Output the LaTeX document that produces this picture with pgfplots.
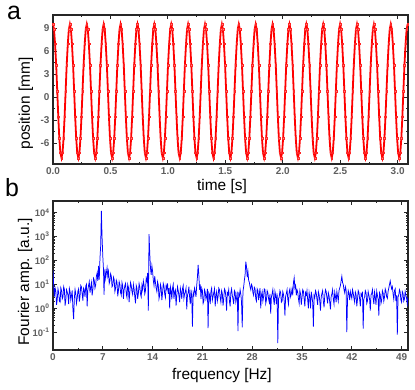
\documentclass[border=0pt]{standalone}
\usepackage{fontspec}
\setmainfont{Liberation Sans}
\usepackage{pgfplots}
\pgfplotsset{compat=1.18}
\definecolor{ticklab}{RGB}{95,95,95}

\pgfplotsset{
  panel/.style={
    scale only axis, width=355bp, height=149bp,
    axis line style={line width=1.1pt, black!85},
    tick style={line width=0.8pt, black!85},
    major tick length=4bp, minor tick length=2.2bp,
    tick label style={font=\fontsize{10}{12}\selectfont\bfseries, text=ticklab},
    label style={font=\fontsize{15.5}{18}\selectfont},
  }
}

\begin{document}
\begin{tikzpicture}
% (a) position vs time
\begin{axis}[panel, name=top,
    xmin=0, xmax=3.09, ymin=-8.7, ymax=10.7,
    xtick={0,0.5,1,1.5,2,2.5,3},
    xticklabels={0.0,0.5,1.0,1.5,2.0,2.5,3.0},
    ytick={-6,-3,0,3,6,9},
    yticklabels={-6,-3,0,3,6,9},
    minor x tick num=1, minor y tick num=1,
    xlabel={time [s]}, ylabel={position [mm]},
    xlabel style={at={(axis description cs:0.476,-0.181)}, anchor=base},
    ylabel style={at={(axis description cs:-0.0648,0.406)}, anchor=base, rotate=0},
  ]
  \addplot[red, line width=1.8pt, mark=square*, mark size=0.85pt,
           mark options={draw=red!85, fill=red!50, line width=0.3pt}] coordinates {
  (0.000,9.50)(0.009,8.84)(0.018,6.95)(0.028,4.13)(0.037,0.80)(0.046,-2.53)(0.055,-5.35)(0.064,-7.24)(0.074,-7.90)(0.083,-7.24)(0.092,-5.35)(0.101,-2.53)(0.110,0.80)(0.119,4.13)(0.129,6.95)(0.138,8.84)
  (0.147,9.50)(0.156,8.84)(0.165,6.95)(0.175,4.13)(0.184,0.80)(0.193,-2.53)(0.202,-5.35)(0.211,-7.24)(0.221,-7.90)(0.230,-7.24)(0.239,-5.35)(0.248,-2.53)(0.257,0.80)(0.266,4.13)(0.276,6.95)(0.285,8.84)
  (0.294,9.50)(0.303,8.84)(0.312,6.95)(0.322,4.13)(0.331,0.80)(0.340,-2.53)(0.349,-5.35)(0.358,-7.24)(0.368,-7.90)(0.377,-7.24)(0.386,-5.35)(0.395,-2.53)(0.404,0.80)(0.413,4.13)(0.423,6.95)(0.432,8.84)
  (0.441,9.50)(0.450,8.84)(0.459,6.95)(0.469,4.13)(0.478,0.80)(0.487,-2.53)(0.496,-5.35)(0.505,-7.24)(0.515,-7.90)(0.524,-7.24)(0.533,-5.35)(0.542,-2.53)(0.551,0.80)(0.560,4.13)(0.570,6.95)(0.579,8.84)
  (0.588,9.50)(0.597,8.84)(0.606,6.95)(0.616,4.13)(0.625,0.80)(0.634,-2.53)(0.643,-5.35)(0.652,-7.24)(0.662,-7.90)(0.671,-7.24)(0.680,-5.35)(0.689,-2.53)(0.698,0.80)(0.707,4.13)(0.717,6.95)(0.726,8.84)
  (0.735,9.50)(0.744,8.84)(0.753,6.95)(0.763,4.13)(0.772,0.80)(0.781,-2.53)(0.790,-5.35)(0.799,-7.24)(0.809,-7.90)(0.818,-7.24)(0.827,-5.35)(0.836,-2.53)(0.845,0.80)(0.854,4.13)(0.864,6.95)(0.873,8.84)
  (0.882,9.50)(0.891,8.84)(0.900,6.95)(0.910,4.13)(0.919,0.80)(0.928,-2.53)(0.937,-5.35)(0.946,-7.24)(0.956,-7.90)(0.965,-7.24)(0.974,-5.35)(0.983,-2.53)(0.992,0.80)(1.001,4.13)(1.011,6.95)(1.020,8.84)
  (1.029,9.50)(1.038,8.84)(1.047,6.95)(1.057,4.13)(1.066,0.80)(1.075,-2.53)(1.084,-5.35)(1.093,-7.24)(1.103,-7.90)(1.112,-7.24)(1.121,-5.35)(1.130,-2.53)(1.139,0.80)(1.148,4.13)(1.158,6.95)(1.167,8.84)
  (1.176,9.50)(1.185,8.84)(1.194,6.95)(1.204,4.13)(1.213,0.80)(1.222,-2.53)(1.231,-5.35)(1.240,-7.24)(1.250,-7.90)(1.259,-7.24)(1.268,-5.35)(1.277,-2.53)(1.286,0.80)(1.295,4.13)(1.305,6.95)(1.314,8.84)
  (1.323,9.50)(1.332,8.84)(1.341,6.95)(1.351,4.13)(1.360,0.80)(1.369,-2.53)(1.378,-5.35)(1.387,-7.24)(1.397,-7.90)(1.406,-7.24)(1.415,-5.35)(1.424,-2.53)(1.433,0.80)(1.442,4.13)(1.452,6.95)(1.461,8.84)
  (1.470,9.50)(1.479,8.84)(1.488,6.95)(1.498,4.13)(1.507,0.80)(1.516,-2.53)(1.525,-5.35)(1.534,-7.24)(1.544,-7.90)(1.553,-7.24)(1.562,-5.35)(1.571,-2.53)(1.580,0.80)(1.589,4.13)(1.599,6.95)(1.608,8.84)
  (1.617,9.50)(1.626,8.84)(1.635,6.95)(1.645,4.13)(1.654,0.80)(1.663,-2.53)(1.672,-5.35)(1.681,-7.24)(1.691,-7.90)(1.700,-7.24)(1.709,-5.35)(1.718,-2.53)(1.727,0.80)(1.736,4.13)(1.746,6.95)(1.755,8.84)
  (1.764,9.50)(1.773,8.84)(1.782,6.95)(1.792,4.13)(1.801,0.80)(1.810,-2.53)(1.819,-5.35)(1.828,-7.24)(1.838,-7.90)(1.847,-7.24)(1.856,-5.35)(1.865,-2.53)(1.874,0.80)(1.883,4.13)(1.893,6.95)(1.902,8.84)
  (1.911,9.50)(1.920,8.84)(1.929,6.95)(1.939,4.13)(1.948,0.80)(1.957,-2.53)(1.966,-5.35)(1.975,-7.24)(1.985,-7.90)(1.994,-7.24)(2.003,-5.35)(2.012,-2.53)(2.021,0.80)(2.030,4.13)(2.040,6.95)(2.049,8.84)
  (2.058,9.50)(2.067,8.84)(2.076,6.95)(2.086,4.13)(2.095,0.80)(2.104,-2.53)(2.113,-5.35)(2.122,-7.24)(2.132,-7.90)(2.141,-7.24)(2.150,-5.35)(2.159,-2.53)(2.168,0.80)(2.177,4.13)(2.187,6.95)(2.196,8.84)
  (2.205,9.50)(2.214,8.84)(2.223,6.95)(2.233,4.13)(2.242,0.80)(2.251,-2.53)(2.260,-5.35)(2.269,-7.24)(2.279,-7.90)(2.288,-7.24)(2.297,-5.35)(2.306,-2.53)(2.315,0.80)(2.324,4.13)(2.334,6.95)(2.343,8.84)
  (2.352,9.50)(2.361,8.84)(2.370,6.95)(2.380,4.13)(2.389,0.80)(2.398,-2.53)(2.407,-5.35)(2.416,-7.24)(2.426,-7.90)(2.435,-7.24)(2.444,-5.35)(2.453,-2.53)(2.462,0.80)(2.471,4.13)(2.481,6.95)(2.490,8.84)
  (2.499,9.50)(2.508,8.84)(2.517,6.95)(2.527,4.13)(2.536,0.80)(2.545,-2.53)(2.554,-5.35)(2.563,-7.24)(2.573,-7.90)(2.582,-7.24)(2.591,-5.35)(2.600,-2.53)(2.609,0.80)(2.618,4.13)(2.628,6.95)(2.637,8.84)
  (2.646,9.50)(2.655,8.84)(2.664,6.95)(2.674,4.13)(2.683,0.80)(2.692,-2.53)(2.701,-5.35)(2.710,-7.24)(2.720,-7.90)(2.729,-7.24)(2.738,-5.35)(2.747,-2.53)(2.756,0.80)(2.765,4.13)(2.775,6.95)(2.784,8.84)
  (2.793,9.50)(2.802,8.84)(2.811,6.95)(2.821,4.13)(2.830,0.80)(2.839,-2.53)(2.848,-5.35)(2.857,-7.24)(2.867,-7.90)(2.876,-7.24)(2.885,-5.35)(2.894,-2.53)(2.903,0.80)(2.912,4.13)(2.922,6.95)(2.931,8.84)
  (2.940,9.50)(2.949,8.84)(2.958,6.95)(2.968,4.13)(2.977,0.80)(2.986,-2.53)(2.995,-5.35)(3.004,-7.24)(3.014,-7.90)(3.023,-7.24)(3.032,-5.35)(3.041,-2.53)(3.050,0.80)(3.059,4.13)(3.069,6.95)(3.078,8.84)
  (3.087,9.50)
  };
\end{axis}

% (b) Fourier spectrum
\begin{axis}[panel, at={(0,-186bp)}, anchor=south west,
    ymode=log, xmin=0, xmax=49.9, ymin=0.018, ymax=31000,
    xtick={0,7,14,21,28,35,42,49},
    xticklabels={0,7,14,21,28,35,42,49},
    minor x tick num=1,
    ytick={0.1,1,10,100,1000,10000},
    yticklabels={10\textsuperscript{-1},10\textsuperscript{0},10\textsuperscript{1},10\textsuperscript{2},10\textsuperscript{3},10\textsuperscript{4}},
    yticklabel style={font=\fontsize{9.5}{11}\selectfont\bfseries},
    xlabel={frequency [Hz]}, ylabel={Fourier amp. [a.u.]},
    xlabel style={at={(axis description cs:0.476,-0.195)}, anchor=base},
    ylabel style={at={(axis description cs:-0.0676,0.458)}, anchor=base, rotate=0},
  ]
  \addplot[blue, line width=0.75pt] coordinates {
  (0.0,40)(0.1,8)(0.2,3.1)(0.3,7)(0.4,5.2)(0.5,1.4)(0.6,2.4)(0.7,6.5)(0.8,4.6)(0.9,2.0)(1.0,1.8)(1.1,7.2)(1.2,5.5)(1.3,2.5)(1.4,3.0)(1.5,8.0)(1.6,6.2)(1.7,1.3)(1.8,2.2)(1.9,6.0)
  (2.0,4.8)(2.1,3.6)(2.2,1.5)(2.3,6.8)(2.4,5.0)(2.5,2.2)(2.6,3.4)(2.7,5.6)(2.8,0.9)(2.9,0.35)(3.0,2.6)(3.1,6.2)(3.2,4.1)(3.3,1.6)(3.4,2.6)(3.5,5.2)(3.6,6.5)(3.7,1.9)(3.8,3.2)(3.9,9.0)
  (4.0,7.8)(4.1,4.0)(4.2,2.1)(4.3,7.0)(4.4,5.9)(4.5,3.0)(4.6,8.5)(4.7,10)(4.8,1.2)(4.9,6.0)(5.0,9.0)(5.1,13)(5.2,4.5)(5.3,7.5)(5.4,12)(5.5,3.5)(5.6,6.0)(5.7,18)(5.8,15)(5.9,7)
  (6.0,9.5)(6.1,22)(6.2,30)(6.3,14)(6.4,60)(6.5,16)(6.6,120)(6.7,400)(6.8,12000)(6.9,900)(7.0,150)(7.1,40)(7.17,3.7)(7.25,20)(7.3,45)(7.4,18)(7.5,30)(7.6,50)(7.7,22)(7.8,35)(7.9,11)
  (8.0,14)(8.1,28)(8.2,22)(8.3,8)(8.4,9)(8.5,20)(8.6,16)(8.7,5)(8.8,7)(8.9,15)(9.0,12)(9.1,3.2)(9.2,5.5)(9.3,13)(9.4,10)(9.5,4.5)(9.6,3.5)(9.7,12)(9.8,8.5)(9.9,2.5)
  (10.0,6)(10.1,9)(10.2,11)(10.3,4)(10.4,2.8)(10.5,10)(10.6,7.5)(10.7,1.8)(10.8,5)(10.9,12)(11.0,9)(11.1,5)(11.2,3.8)(11.3,10)(11.4,6.5)(11.5,3)(11.6,1.6)(11.7,9)(11.8,7)(11.9,2.5)
  (12.0,4.2)(12.1,11)(12.2,8)(12.3,4)(12.4,3)(12.5,9)(12.6,6)(12.7,14)(12.8,9.5)(12.9,4)(13.0,5.5)(13.1,18)(13.2,14)(13.3,30)(13.4,0.8)(13.5,1260)(13.6,200)(13.7,50)(13.8,25)(13.9,60)
  (14.0,35)(14.1,15)(14.2,9)(14.3,22)(14.4,12)(14.5,7)(14.6,5)(14.7,13)(14.8,9.5)(14.9,2.5)(15.0,3.5)(15.1,10)(15.2,7.5)(15.3,2.2)(15.4,4.5)(15.5,11)(15.6,8.5)(15.7,4)(15.8,2.8)(15.9,9)
  (16.0,6.5)(16.1,11)(16.2,4)(16.3,7)(16.4,1)(16.5,8)(16.6,5.5)(16.7,2.4)(16.8,7)(16.9,10)(17.0,2.5)(17.1,5)(17.2,6)(17.3,1.3)(17.4,3.5)(17.5,8)(17.6,5.5)(17.7,3.4)(17.8,1.8)(17.9,7)
  (18.0,4.8)(18.1,2.5)(18.2,6.5)(18.3,9)(18.4,2.6)(18.5,4)(18.6,5)(18.7,7)(18.8,0.9)(18.9,3.5)(19.0,4.5)(19.1,8)(19.2,3)(19.3,1.5)(19.4,6)(19.5,3)(19.6,0.17)(19.7,4.5)(19.8,3.5)(19.9,7)
  (20.0,5)(20.1,3)(20.2,9)(20.3,20)(20.4,65)(20.5,25)(20.6,6)(20.7,10)(20.8,2.5)(20.9,7)(21.0,5.5)(21.1,1.6)(21.2,2)(21.3,6)(21.4,4.8)(21.5,2.4)(21.6,3.2)(21.7,6.5)(21.8,0.15)(21.9,4.5)
  (22.0,3.8)(22.1,1.5)(22.2,5.2)(22.3,7)(22.4,2.2)(22.5,3.2)(22.6,4.5)(22.7,6.5)(22.8,1.2)(22.9,3.5)(23.0,5)(23.1,2)(23.2,3)(23.3,7)(23.4,6)(23.5,2.8)(23.6,1.8)(23.7,5.5)(23.8,4.2)(23.9,1.3)
  (24.0,2.5)(24.1,6.5)(24.2,5.5)(24.3,3)(24.4,0.8)(24.5,4.5)(24.6,3.8)(24.7,6)(24.8,2)(24.9,1.2)(25.0,4.5)(25.1,6.5)(25.2,3.5)(25.3,2.4)(25.4,1.5)(25.5,5.5)(25.6,4.8)(25.7,1.8)(25.8,2.6)(25.9,5)
  (26.0,0.11)(26.1,4)(26.2,3.2)(26.3,6)(26.4,4)(26.5,1.8)(26.6,0.16)(26.7,5)(26.8,8)(26.9,15)(27.0,25)(27.1,90)(27.2,55)(27.3,20)(27.4,35)(27.5,15)(27.6,12)(27.7,8)(27.8,6)(27.9,10)
  (28.0,8.5)(28.1,4.5)(28.2,3.5)(28.3,7.5)(28.4,6.5)(28.5,2.5)(28.6,2)(28.7,6.5)(28.8,5.5)(28.9,2.2)(29.0,4)(29.1,7)(29.2,1)(29.3,3.5)(29.4,5)(29.5,2)(29.6,3)(29.7,6.5)(29.8,6)(29.9,1.6)
  (30.0,2.2)(30.1,5.5)(30.2,4.5)(30.3,2.5)(30.4,1.8)(30.5,4)(30.6,0.6)(30.7,3)(30.8,4)(30.9,6)(31.0,2.5)(31.1,1.4)(31.2,5)(31.3,3.4)(31.4,1.5)(31.5,4.2)(31.6,0.035)(31.7,2.5)(31.8,3)(31.9,5.5)
  (32.0,4.5)(32.1,1.8)(32.2,2)(32.3,5)(32.4,3.8)(32.5,2)(32.6,0.5)(32.7,3.2)(32.8,4.2)(32.9,6)(33.0,2.4)(33.1,1.5)(33.2,5)(33.3,6.5)(33.4,3)(33.5,4)(33.6,6.5)(33.7,3.5)(33.8,12)(33.9,19)
  (34.0,7)(34.1,9)(34.2,3.5)(34.3,6)(34.4,4.8)(34.5,2.5)(34.6,1.6)(34.7,5.5)(34.8,4)(34.9,1.4)(35.0,2.8)(35.1,6)(35.2,5.2)(35.3,2.5)(35.4,1.2)(35.5,4.5)(35.6,3.6)(35.7,5.5)(35.8,2.2)(35.9,1.0)
  (36.0,4.6)(36.1,3)(36.2,1)(36.3,5)(36.4,3.2)(36.5,1.8)(36.6,0.17)(36.7,3.5)(36.8,2.8)(36.9,5.5)(37.0,4.4)(37.1,2.4)(37.2,1.4)(37.3,5)(37.4,3.8)(37.5,2)(37.6,0.8)(37.7,3)(37.8,4.2)(37.9,5.5)
  (38.0,2)(38.1,1.1)(38.2,3.5)(38.3,6)(38.4,5)(38.5,2.8)(38.6,1.6)(38.7,4.5)(38.8,3.4)(38.9,1.8)(39.0,0.9)(39.1,3.2)(39.2,4)(39.3,6)(39.4,2.4)(39.5,1.5)(39.6,4.8)(39.7,3.2)(39.8,1.8)(39.9,5)
  (40.0,3.2)(40.1,2)(40.2,5.5)(40.3,7)(40.4,9)(40.5,14)(40.6,22)(40.7,12)(40.8,10)(40.9,6)(41.0,4.5)(41.1,8)(41.2,6)(41.3,0.1)(41.4,2.5)(41.5,5.5)(41.6,4.2)(41.7,2.2)(41.8,5)(41.9,3.5)
  (42.0,2.6)(42.1,6)(42.2,4.4)(42.3,2.6)(42.4,1.8)(42.5,4.8)(42.6,3.8)(42.7,1.2)(42.8,2.4)(42.9,5.5)(43.0,4.6)(43.1,2.5)(43.2,1.2)(43.3,4)(43.4,3.4)(43.5,5)(43.6,0.14)(43.7,2.6)(43.8,3)(43.9,5.5)
  (44.0,4.6)(44.1,1.6)(44.2,2)(44.3,5)(44.4,3.6)(44.5,2.4)(44.6,0.8)(44.7,3.6)(44.8,4.2)(44.9,6)(45.0,2.6)(45.1,1.5)(45.2,4.8)(45.3,3)(45.4,1.4)(45.5,5.2)(45.6,3.6)(45.7,2.4)(45.8,0.5)(45.9,4.5)
  (46.0,3.8)(46.1,1.6)(46.2,2.2)(46.3,5.5)(46.4,4.4)(46.5,2)(46.6,3)(46.7,6.5)(46.8,5.2)(46.9,3)(47.0,2.6)(47.1,5)(47.2,7)(47.3,10)(47.4,14)(47.5,9)(47.6,6.5)(47.7,8)(47.8,4)(47.9,2.4)
  (48.0,5.5)(48.1,6.5)(48.2,2)(48.3,3.5)(48.4,0.08)(48.5,3)(48.6,3.6)(48.7,6)(48.8,4.8)(48.9,2.2)(49.0,1.8)(49.1,5)(49.2,4.2)(49.3,2)(49.4,2.4)(49.5,5)(49.6,3.6)(49.7,2.6)(49.8,1.5)(49.9,3)
  };
\end{axis}

\node[anchor=base west, font=\fontsize{25}{30}\selectfont, inner sep=0pt] at (-46bp,144bp) {a};
\node[anchor=base west, font=\fontsize{25}{30}\selectfont, inner sep=0pt] at (-48bp,-32.7bp) {b};

\pgfresetboundingbox
\path[use as bounding box] (-53bp,-226bp) rectangle (362bp,164bp);
\end{tikzpicture}
\end{document}
